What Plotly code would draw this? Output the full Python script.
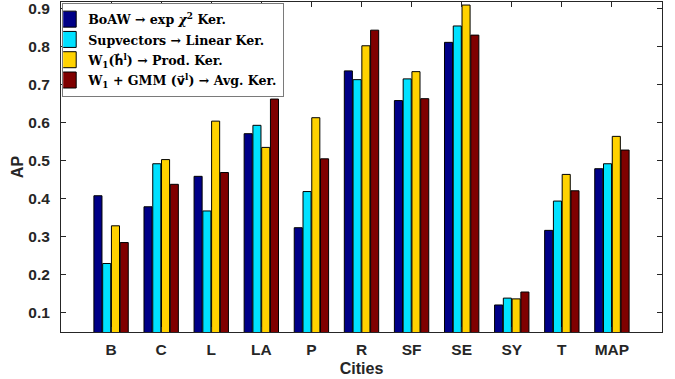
import plotly.graph_objects as go

cities = ["B", "C", "L", "LA", "P", "R", "SF", "SE", "SY", "T", "MAP"]
boaw = [0.408, 0.379, 0.459, 0.571, 0.324, 0.736, 0.658, 0.811, 0.121, 0.317, 0.479]
supvectors = [0.230, 0.492, 0.368, 0.593, 0.419, 0.713, 0.715, 0.854, 0.139, 0.394, 0.492]
w1_prod = [0.329, 0.503, 0.604, 0.535, 0.613, 0.802, 0.734, 0.909, 0.137, 0.464, 0.564]
w1_gmm_avg = [0.285, 0.438, 0.469, 0.662, 0.505, 0.843, 0.663, 0.830, 0.155, 0.421, 0.528]

ARW = "<span style=\"font-family:'DejaVu Sans'\">%s⃗</span>"
names = [
    "BoAW → exp <i>χ</i><sup>2</sup> Ker.",
    "Supvectors → Linear Ker.",
    "W<sub>1</sub>(" + ARW % "h" + "<sup>l</sup>) → Prod. Ker.",
    "W<sub>1</sub> + GMM (" + ARW % "v" + "<sup>l</sup>) → Avg. Ker.",
]
colors = ["#000087", "#00E1FF", "#FFD200", "#7F0000"]
series = [boaw, supvectors, w1_prod, w1_gmm_avg]

xpos = list(range(1, len(cities) + 1))

fig = go.Figure()
for name, col, vals in zip(names, colors, series):
    fig.add_trace(go.Bar(
        x=xpos, y=vals, name=name, showlegend=False,
        marker=dict(color=col, line=dict(color="#000000", width=1)),
    ))
# legend-only entries with larger square swatches
for name, col in zip(names, colors):
    fig.add_trace(go.Scatter(
        x=[None], y=[None], mode="markers",
        name="<span style=\"font-size:12.6px\"><b>" + name + "</b></span>",
        marker=dict(symbol="square", size=16, color=col, line=dict(color="#000000", width=1)),
    ))

axis_col = "#262626"
tickfont = dict(family="Liberation Sans, Arial", size=15.5, color=axis_col)
fig.update_layout(
    width=675, height=379,
    margin=dict(l=61, r=13, t=2, b=47, autoexpand=False),
    paper_bgcolor="white", plot_bgcolor="white",
    barmode="group", bargap=0.3, bargroupgap=0.08,
    showlegend=True,
    legend=dict(
        x=0.002, y=0.997, xanchor="left", yanchor="top",
        bgcolor="white", bordercolor="#7a7a7a", borderwidth=1,
        font=dict(family="DejaVu Serif", size=13.3, color="black"),
        tracegroupgap=0, itemwidth=30, indentation=-15,
    ),
    font=dict(family="Liberation Sans, Arial", color=axis_col),
)
fig.update_xaxes(
    range=[0, 12], tickmode="array", tickvals=xpos,
    ticktext=["<b>%s</b>" % c for c in cities],
    showline=True, linecolor=axis_col, linewidth=1, mirror="ticks",
    ticks="inside", ticklen=5, tickcolor=axis_col, showgrid=False, zeroline=False,
    tickfont=tickfont, ticklabelstandoff=3, automargin=False, ticklabeloverflow="allow",
    title=dict(text="<b>Cities</b>", font=dict(family="Liberation Sans, Arial", size=16, color=axis_col), standoff=6),
)
yt = [0.1, 0.2, 0.3, 0.4, 0.5, 0.6, 0.7, 0.8, 0.9]
fig.update_yaxes(
    range=[0.05, 0.917], tickmode="array",
    tickvals=yt, ticktext=["<b>%.1f</b>" % v for v in yt],
    showline=True, linecolor=axis_col, linewidth=1, mirror="ticks",
    ticks="inside", ticklen=5, tickcolor=axis_col, showgrid=False, zeroline=False,
    tickfont=tickfont, ticklabelstandoff=7, automargin=False, ticklabeloverflow="allow",
    title=dict(text="<b>AP</b>", font=dict(family="Liberation Sans, Arial", size=16, color=axis_col), standoff=0),
)

fig.write_html(
    "out.html",
    config={"displayModeBar": False},
    post_script="document.body.style.margin='0';document.body.style.padding='0';",
)
